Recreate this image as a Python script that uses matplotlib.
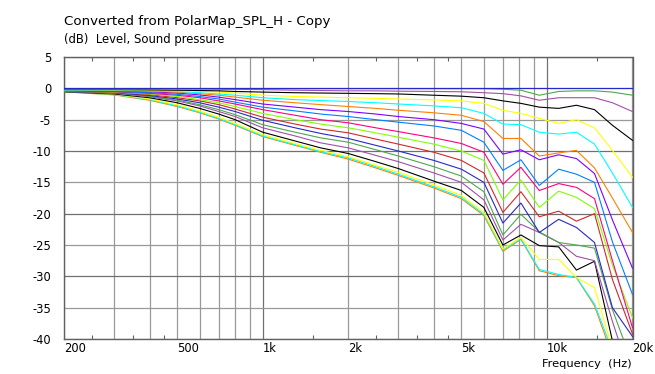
import matplotlib
matplotlib.use("Agg")
import matplotlib.pyplot as plt
from matplotlib.ticker import FixedLocator, FixedFormatter, NullFormatter

plt.rcParams['font.family'] = ['DejaVu Sans']

freq = [200, 300, 400, 500, 600, 700, 800, 1000, 1300, 1600, 2000, 2500, 3000,
        4000, 5000, 6000, 7000, 8100, 9400, 11000, 12700, 14700, 17000, 20000]

c00 = [0, 0, 0, 0, 0, 0, 0, 0, 0, 0, 0, 0, 0, 0, 0, 0, 0, 0, 0, 0, 0, 0, 0, 0]
c05 = [-0.1, -0.1, -0.05, -0.05, -0.05, -0.05, -0.05, -0.05, -0.05, -0.05, -0.05, -0.05, -0.05,
       -0.05, -0.05, -0.05, -0.15, -0.3, -1.1, -0.5, -0.4, -0.4, -0.6, -1.1]
c10 = [-0.1, -0.1, -0.1, -0.1, -0.12, -0.15, -0.17, -0.2, -0.3, -0.35, -0.4, -0.4, -0.45,
       -0.5, -0.55, -0.7, -0.85, -1.2, -1.9, -1.5, -1.5, -1.5, -2.3, -3.7]
c15 = [-0.2, -0.2, -0.25, -0.3, -0.35, -0.4, -0.5, -0.6, -0.7, -0.75, -0.8, -0.85, -0.9,
       -1.1, -1.25, -1.5, -2.0, -2.4, -3.0, -3.2, -2.7, -3.4, -5.9, -8.3]
c20 = [-0.2, -0.25, -0.3, -0.4, -0.5, -0.6, -0.75, -1.1, -1.3, -1.4, -1.5, -1.6, -1.7,
       -1.85, -2.0, -2.4, -3.5, -4.0, -4.8, -5.6, -5.0, -6.3, -9.9, -14.2]
c25 = [-0.3, -0.3, -0.4, -0.5, -0.7, -0.9, -1.1, -1.5, -1.8, -1.95, -2.1, -2.3, -2.5,
       -2.8, -3.1, -4.0, -5.7, -5.8, -7.0, -7.3, -7.0, -8.9, -13.5, -19.0]
c30 = [-0.3, -0.35, -0.45, -0.6, -0.85, -1.1, -1.4, -1.9, -2.3, -2.6, -2.9, -3.2, -3.5,
       -3.9, -4.3, -5.3, -8.0, -8.0, -10.8, -10.3, -9.9, -12.7, -17.5, -23.0]
c35 = [-0.35, -0.4, -0.55, -0.75, -1.05, -1.4, -1.8, -2.5, -3.0, -3.4, -3.7, -4.1, -4.5,
       -5.0, -5.6, -6.5, -10.5, -9.8, -11.4, -10.6, -11.2, -13.6, -21.0, -28.7]
c40 = [-0.4, -0.5, -0.7, -0.95, -1.3, -1.7, -2.2, -3.0, -3.6, -4.1, -4.5, -5.0, -5.4,
       -6.0, -6.7, -8.6, -13.1, -11.4, -15.5, -12.9, -13.7, -15.0, -24.5, -32.9]
c45 = [-0.4, -0.55, -0.8, -1.1, -1.5, -2.0, -2.5, -3.4, -4.3, -5.0, -5.5, -6.3, -6.9,
       -7.9, -8.8, -10.2, -15.3, -12.6, -16.3, -15.2, -15.8, -17.6, -27.5, -38.2]
c50 = [-0.45, -0.6, -0.9, -1.3, -1.8, -2.3, -2.9, -4.0, -5.0, -5.7, -6.3, -7.1, -7.8,
       -8.9, -10.0, -11.5, -17.8, -14.6, -19.0, -16.4, -17.4, -19.2, -28.2, -36.6]
c55 = [-0.45, -0.65, -1.0, -1.5, -2.0, -2.6, -3.3, -4.6, -5.7, -6.5, -7.1, -8.1, -8.9,
       -10.2, -11.5, -13.5, -19.8, -16.5, -20.5, -19.6, -21.2, -20.0, -30.5, -39.2]
c60 = [-0.5, -0.7, -1.15, -1.7, -2.3, -3.0, -3.7, -5.1, -6.3, -7.2, -8.0, -9.1, -10.0,
       -11.5, -12.9, -15.0, -21.5, -18.3, -23.0, -20.9, -22.2, -24.6, -35.0, -39.6]
c65 = [-0.5, -0.75, -1.25, -1.9, -2.6, -3.4, -4.2, -5.8, -7.0, -7.9, -8.6, -9.8, -10.8,
       -12.5, -14.0, -16.5, -23.4, -20.1, -22.9, -24.6, -25.0, -25.5, -35.3, -44.0]
c70 = [-0.5, -0.8, -1.35, -2.0, -2.8, -3.7, -4.5, -6.3, -7.6, -8.7, -9.5, -10.7, -11.7,
       -13.5, -15.0, -17.8, -24.2, -21.7, -23.0, -24.6, -26.8, -27.5, -37.2, -47.0]
c75 = [-0.55, -0.9, -1.5, -2.3, -3.2, -4.1, -5.0, -7.0, -8.4, -9.5, -10.4, -11.7, -12.8,
       -14.8, -16.3, -19.0, -25.0, -23.4, -25.1, -25.3, -29.0, -27.6, -40.3, -50.0]
c80 = [-0.55, -0.95, -1.7, -2.6, -3.6, -4.6, -5.6, -7.4, -8.8, -9.9, -10.9, -12.3, -13.4,
       -15.4, -17.1, -19.8, -25.6, -23.8, -27.3, -27.3, -30.2, -31.8, -41.6, -50.0]
c85 = [-0.55, -1.0, -1.8, -2.8, -3.8, -4.8, -5.8, -7.6, -9.0, -10.1, -11.1, -12.5, -13.7,
       -15.7, -17.4, -20.1, -25.8, -24.0, -28.9, -29.7, -30.2, -34.4, -41.9, -50.0]
c90 = [-0.55, -1.05, -1.9, -2.9, -3.9, -4.9, -5.9, -7.7, -9.1, -10.2, -11.3, -12.7, -13.9,
       -15.9, -17.6, -20.3, -26.0, -24.1, -29.1, -29.9, -30.2, -34.7, -42.7, -50.0]

curves = [c00, c05, c10, c15, c20, c25, c30, c35, c40, c45,
          c50, c55, c60, c65, c70, c75, c80, c85, c90]

palette = ['#2828C8', '#4CA84C', '#A050A8', '#000000', '#FFFF00', '#00FFFF',
           '#FF8000', '#8000FF', '#0080FF', '#FF0080', '#80FF00', '#D02828']

grid_ticks = [200, 300, 400, 500, 600, 700, 800, 900, 1000, 2000, 3000, 4000,
              5000, 6000, 7000, 8000, 9000, 10000, 20000]
grid_labels = ['200', '', '', '500', '', '', '', '', '1k', '2k', '', '',
               '5k', '', '', '', '', '10k', '20k']
minor_ticks = [250, 350, 450, 1500, 2500, 3500, 4500, 15000]
y_ticks = [5, 0, -5, -10, -15, -20, -25, -30, -35, -40]

fig = plt.figure(figsize=(6.55, 3.74), dpi=100)
ax = fig.add_axes([64 / 655, 35 / 374, 568.5 / 655, 282 / 374])

for i, c in enumerate(curves):
    ax.plot(freq, c, color=palette[i % len(palette)], lw=0.8, zorder=3 + (18 - i) * 0.01)

ax.set_xscale('log')
ax.set_xlim(200, 20000)
ax.set_ylim(-40, 5)

ax.xaxis.set_major_locator(FixedLocator(grid_ticks))
ax.xaxis.set_major_formatter(FixedFormatter(grid_labels))
ax.xaxis.set_minor_locator(FixedLocator(minor_ticks))
ax.xaxis.set_minor_formatter(NullFormatter())
ax.set_yticks(y_ticks)
ax.set_yticklabels([str(v) for v in y_ticks])

ax.tick_params(axis='x', which='major', length=0, pad=2, labelsize=8.3)
ax.tick_params(axis='x', which='minor', direction='in', length=3, width=0.8,
               color='#606060', top=True, bottom=True)
ax.tick_params(axis='y', which='major', length=0, pad=9, labelsize=8.3)
for lab in ax.get_xticklabels():
    lab.set_horizontalalignment('left')

ax.grid(True, which='major', color='#999999', lw=0.9, zorder=1)
for v, gl in zip(grid_ticks, ax.get_xgridlines()):
    if v in (1000, 10000):
        gl.set_color('#707070')
for v, gl in zip(y_ticks, ax.get_ygridlines()):
    if v in (0, -10, -20, -30):
        gl.set_color('#707070')
ax.set_axisbelow(True)

for sp in ax.spines.values():
    sp.set_color('#606060')
    sp.set_linewidth(1.0)

fig.text(64 / 655, 1 - 21.5 / 374, 'Converted from PolarMap_SPL_H - Copy',
         fontsize=9.6, ha='left', va='center')
fig.text(64 / 655, 1 - 39.5 / 374, '(dB)  Level, Sound pressure',
         fontsize=8.4, ha='left', va='center')
fig.text(632 / 655, 1 - 364 / 374, 'Frequency  (Hz)',
         fontsize=8.2, ha='right', va='center')

fig.savefig('out.png', dpi=100, facecolor='white')
